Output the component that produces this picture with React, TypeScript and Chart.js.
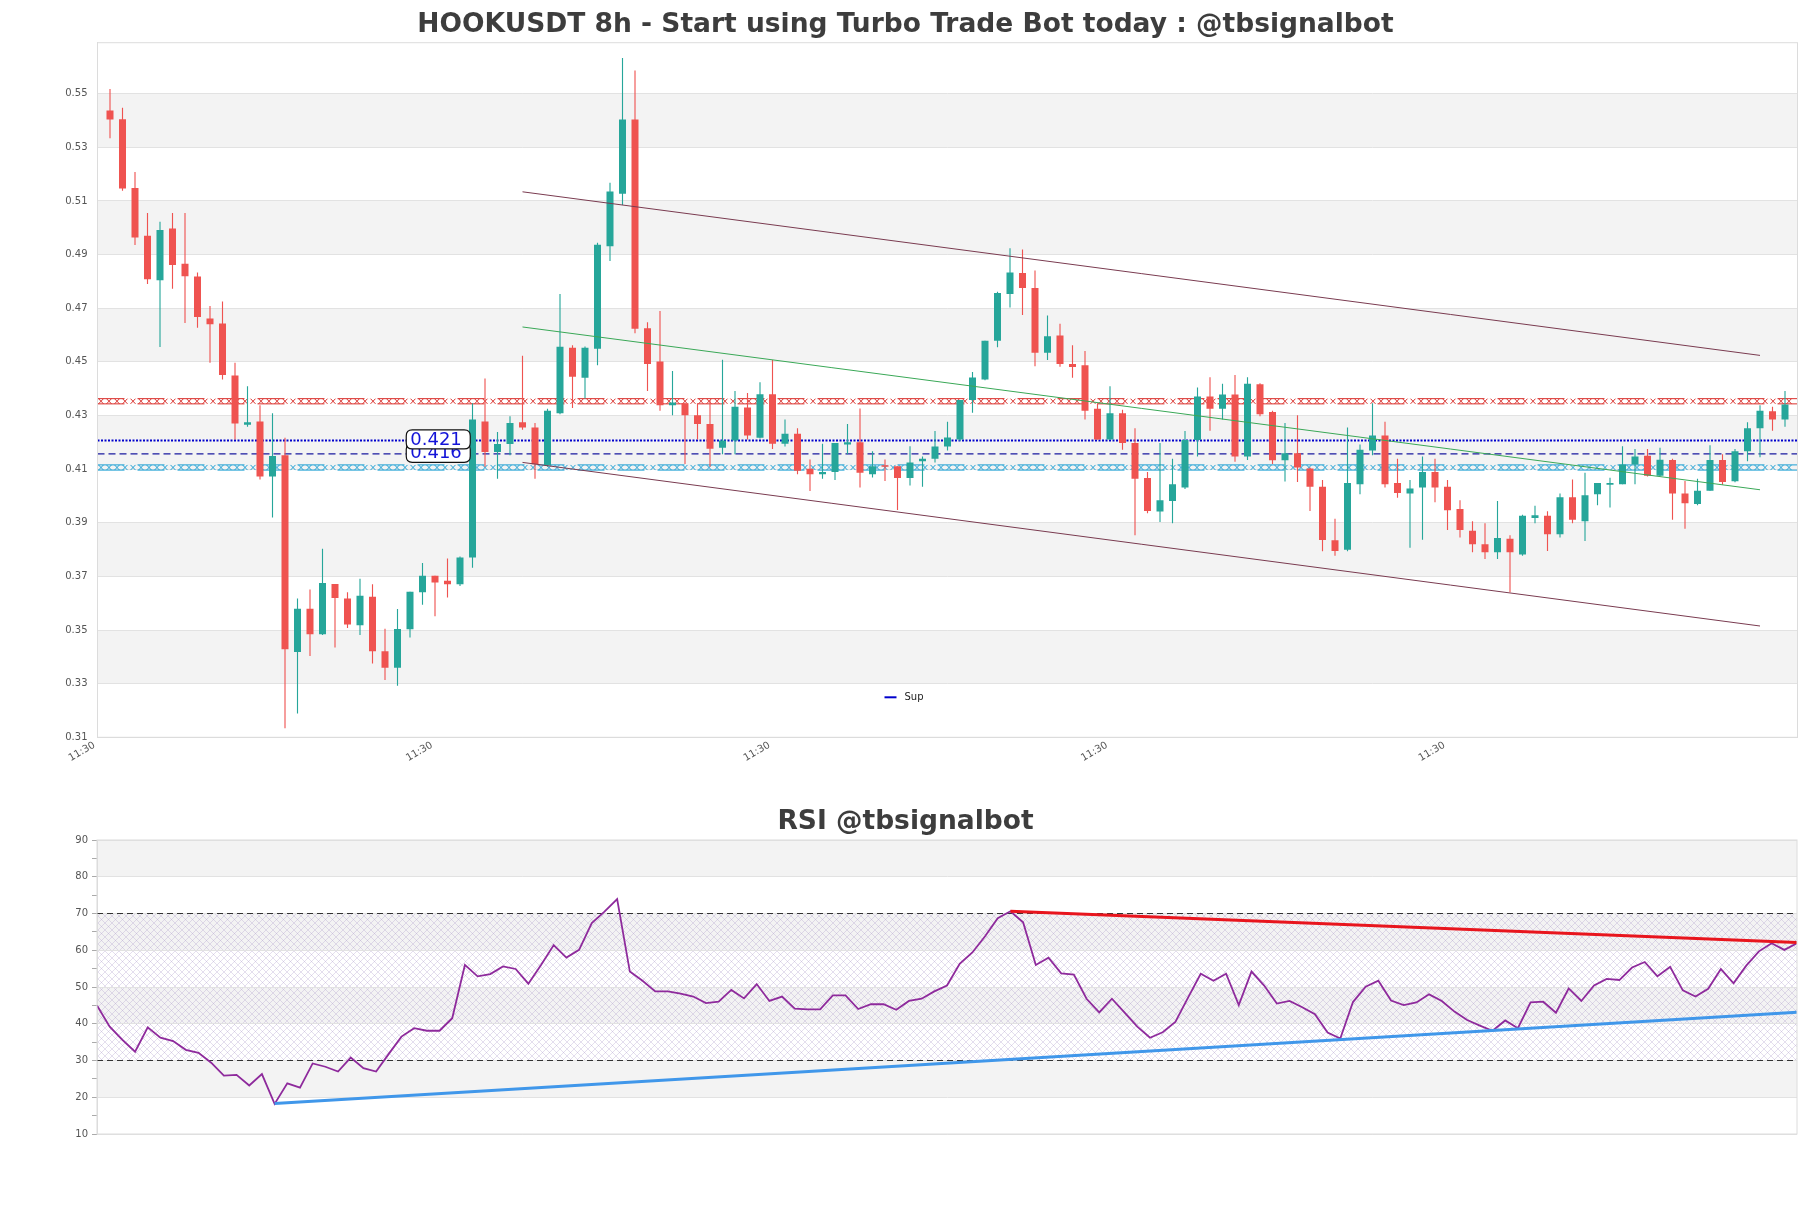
import React, { useEffect, useRef } from 'react';
import { Chart, registerables } from 'chart.js';

Chart.register(...registerables);
Chart.defaults.font.family = "'DejaVu Sans', 'Noto Sans', sans-serif";

// ---------- DATA ----------
const OPEN = [
  0.5437, 0.5405, 0.5148, 0.4970, 0.4804, 0.4997, 0.4866, 0.4818, 0.4662, 0.4643,
  0.4449, 0.4265, 0.4278, 0.4072, 0.4152, 0.3418, 0.3579, 0.3484, 0.3672, 0.3618,
  0.3518, 0.3624, 0.3421, 0.3359, 0.3503, 0.3641, 0.3702, 0.3684, 0.3671, 0.3770,
  0.4278, 0.4164, 0.4194, 0.4275, 0.4255, 0.4114, 0.4308, 0.4553, 0.4441, 0.4549,
  0.4931, 0.5127, 0.5404, 0.4625, 0.4501, 0.4338, 0.4346, 0.4301, 0.4268, 0.4180,
  0.4207, 0.4330, 0.4217, 0.4379, 0.4195, 0.4232, 0.4101, 0.4081, 0.4089, 0.4192,
  0.4200, 0.4081, 0.4114, 0.4111, 0.4067, 0.4129, 0.4139, 0.4184, 0.4210, 0.4358,
  0.4434, 0.4579, 0.4753, 0.4831, 0.4775, 0.4534, 0.4598, 0.4492, 0.4487, 0.4325,
  0.4210, 0.4308, 0.4197, 0.4067, 0.3942, 0.3981, 0.4031, 0.4209, 0.4371, 0.4325,
  0.4378, 0.4147, 0.4416, 0.4313, 0.4133, 0.4159, 0.4102, 0.4034, 0.3835, 0.3799,
  0.4044, 0.4169, 0.4225, 0.4048, 0.4009, 0.4031, 0.4089, 0.4034, 0.3951, 0.3870,
  0.3820, 0.3790, 0.3840, 0.3782, 0.3918, 0.3926, 0.3857, 0.3995, 0.3906, 0.4006,
  0.4042, 0.4044, 0.4117, 0.4150, 0.4075, 0.4134, 0.4009, 0.3970, 0.4019, 0.4134,
  0.4055, 0.4167, 0.4252, 0.4316, 0.4285,
];
const HIGH = [
  0.5517, 0.5447, 0.5208, 0.5055, 0.5022, 0.5055, 0.5055, 0.4833, 0.4708, 0.4725,
  0.4497, 0.4409, 0.4338, 0.4308, 0.4217, 0.3618, 0.3651, 0.3803, 0.3672, 0.3641,
  0.3691, 0.3671, 0.3505, 0.3578, 0.3643, 0.3750, 0.3702, 0.3767, 0.3774, 0.4346,
  0.4438, 0.4238, 0.4297, 0.4523, 0.4272, 0.4325, 0.4753, 0.4562, 0.4557, 0.4944,
  0.5168, 0.5633, 0.5586, 0.4648, 0.4690, 0.4466, 0.4346, 0.4346, 0.4358, 0.4508,
  0.4391, 0.4384, 0.4424, 0.4507, 0.4285, 0.4252, 0.4136, 0.4195, 0.4197, 0.4268,
  0.4326, 0.4167, 0.4136, 0.4111, 0.4185, 0.4147, 0.4242, 0.4277, 0.4358, 0.4462,
  0.4579, 0.4761, 0.4924, 0.4919, 0.4841, 0.4673, 0.4642, 0.4562, 0.4540, 0.4346,
  0.4409, 0.4321, 0.4252, 0.4089, 0.4197, 0.4139, 0.4242, 0.4404, 0.4443, 0.4418,
  0.4451, 0.4443, 0.4420, 0.4318, 0.4272, 0.4301, 0.4106, 0.4059, 0.3915, 0.4255,
  0.4192, 0.4346, 0.4277, 0.4139, 0.4059, 0.4147, 0.4139, 0.4059, 0.3984, 0.3906,
  0.3898, 0.3981, 0.3853, 0.3930, 0.3963, 0.3943, 0.4009, 0.4061, 0.4086, 0.4048,
  0.4068, 0.4185, 0.4175, 0.4175, 0.4180, 0.4139, 0.4056, 0.4064, 0.4189, 0.4155,
  0.4175, 0.4275, 0.4338, 0.4333, 0.4391,
];
const LOW = [
  0.5334, 0.5138, 0.4936, 0.4790, 0.4555, 0.4773, 0.4645, 0.4627, 0.4497, 0.4434,
  0.4210, 0.4258, 0.4061, 0.3920, 0.3134, 0.3189, 0.3403, 0.3481, 0.3435, 0.3508,
  0.3481, 0.3375, 0.3314, 0.3292, 0.3472, 0.3594, 0.3551, 0.3621, 0.3664, 0.3732,
  0.4109, 0.4064, 0.4152, 0.4247, 0.4064, 0.4109, 0.4305, 0.4328, 0.4363, 0.4487,
  0.4876, 0.5085, 0.4607, 0.4391, 0.4318, 0.4301, 0.4119, 0.4210, 0.4109, 0.4155,
  0.4155, 0.4210, 0.4214, 0.4175, 0.4184, 0.4081, 0.4018, 0.4064, 0.4059, 0.4155,
  0.4031, 0.4069, 0.4056, 0.3948, 0.4039, 0.4034, 0.4125, 0.4169, 0.4205, 0.4310,
  0.4431, 0.4554, 0.4703, 0.4675, 0.4484, 0.4507, 0.4482, 0.4441, 0.4285, 0.4210,
  0.4210, 0.4172, 0.3853, 0.3935, 0.3903, 0.3898, 0.4026, 0.4147, 0.4243, 0.4285,
  0.4127, 0.4134, 0.4297, 0.4119, 0.4054, 0.4052, 0.3944, 0.3794, 0.3777, 0.3794,
  0.4006, 0.4152, 0.4031, 0.3993, 0.3807, 0.3837, 0.3976, 0.3873, 0.3845, 0.3790,
  0.3765, 0.3765, 0.3641, 0.3777, 0.3898, 0.3795, 0.3845, 0.3898, 0.3832, 0.3965,
  0.3957, 0.4044, 0.4044, 0.4072, 0.4072, 0.3911, 0.3878, 0.3965, 0.4019, 0.4042,
  0.4051, 0.4129, 0.4144, 0.4243, 0.4258,
];
const CLOSE = [
  0.5404, 0.5146, 0.4964, 0.4808, 0.4992, 0.4861, 0.4819, 0.4667, 0.4640, 0.4451,
  0.4270, 0.4275, 0.4072, 0.4149, 0.3428, 0.3579, 0.3484, 0.3675, 0.3619, 0.3521,
  0.3628, 0.3421, 0.3359, 0.3504, 0.3643, 0.3702, 0.3677, 0.3671, 0.3770, 0.4285,
  0.4164, 0.4194, 0.4272, 0.4255, 0.4118, 0.4318, 0.4556, 0.4444, 0.4553, 0.4937,
  0.5135, 0.5404, 0.4623, 0.4492, 0.4338, 0.4348, 0.4301, 0.4268, 0.4176, 0.4207,
  0.4333, 0.4225, 0.4379, 0.4195, 0.4232, 0.4094, 0.4081, 0.4089, 0.4197, 0.4200,
  0.4086, 0.4111, 0.4109, 0.4067, 0.4125, 0.4139, 0.4184, 0.4218, 0.4358, 0.4442,
  0.4579, 0.4757, 0.4833, 0.4775, 0.4534, 0.4595, 0.4492, 0.4481, 0.4318, 0.4210,
  0.4308, 0.4197, 0.4064, 0.3944, 0.3984, 0.4044, 0.4209, 0.4371, 0.4325, 0.4378,
  0.4147, 0.4418, 0.4305, 0.4133, 0.4159, 0.4106, 0.4034, 0.3836, 0.3795, 0.4048,
  0.4172, 0.4225, 0.4044, 0.4011, 0.4028, 0.4089, 0.4031, 0.3947, 0.3873, 0.3820,
  0.3790, 0.3843, 0.3790, 0.3926, 0.3928, 0.3857, 0.3995, 0.3911, 0.4003, 0.4048,
  0.4048, 0.4117, 0.4147, 0.4075, 0.4135, 0.4009, 0.3973, 0.4019, 0.4134, 0.4052,
  0.4167, 0.4252, 0.4318, 0.4285, 0.4341,
];

const RSI = [
  45.0, 39.2, 35.6, 32.4, 39.0, 36.2, 35.3, 32.9, 32.1, 29.4,
  25.9, 26.1, 23.2, 26.3, 18.2, 23.8, 22.6, 29.2, 28.3, 27.0,
  30.8, 27.9, 27.0, 31.8, 36.5, 38.8, 38.1, 38.1, 41.5, 56.0,
  52.9, 53.5, 55.6, 54.9, 50.9, 56.0, 61.4, 58.0, 60.1, 67.4,
  70.5, 73.9, 54.2, 51.7, 48.8, 48.8, 48.2, 47.4, 45.6, 46.0,
  49.2, 46.9, 50.8, 46.2, 47.4, 44.1, 43.9, 43.9, 47.7, 47.7,
  44.0, 45.3, 45.3, 43.8, 46.2, 46.8, 48.8, 50.4, 56.3, 59.4,
  63.8, 68.7, 70.6, 67.6, 56.0, 58.0, 53.7, 53.4, 46.8, 43.1,
  46.8, 43.0, 39.2, 36.2, 37.7, 40.5, 47.1, 53.6, 51.7, 53.6,
  45.1, 54.2, 50.4, 45.5, 46.2, 44.5, 42.6, 37.6, 36.0, 45.9,
  50.1, 51.7, 46.3, 45.1, 45.8, 48.0, 46.2, 43.3, 41.0, 39.5,
  38.1, 40.9, 38.8, 45.8, 46.0, 43.0, 49.6, 46.2, 50.4, 52.2,
  51.9, 55.3, 56.8, 52.9, 55.5, 49.1, 47.4, 49.5, 54.9, 51.0,
  55.8, 59.7, 61.9, 60.1, 61.9,
];

const Y_TICKS = [0.31, 0.33, 0.35, 0.37, 0.39, 0.41, 0.43, 0.45, 0.47, 0.49, 0.51, 0.53, 0.55];
const X_TICKS = [-1, 26, 53, 80, 107];
const X_TICK_LABELS = ['11:30', '11:30', '11:30', '11:30', '11:30'];
const RSI_TICKS = [10, 20, 30, 40, 50, 60, 70, 80, 90];

// trend lines [x0, y0, x1, y1]
const CHANNEL_UPPER = [33, 0.5134, 132, 0.4524];
const CHANNEL_LOWER = [33, 0.4125, 132, 0.3515];
const CHANNEL_MID = [33, 0.4630, 132, 0.4023];

// horizontal levels
const RES_LEVEL = 0.4353;
const SUP_LEVEL = 0.4106;
const DOTTED_LEVEL = 0.4207;
const DASHED_LEVEL = 0.4157;
const LABEL_LEVELS = [0.4157, 0.4207];
const LABEL_TEXTS = ['0.416', '0.421'];

// RSI lines [x0, y0, x1, y1]
const RSI_SUPPORT = [14, 18.3, 134, 43.1];
const RSI_RESIST = [72, 70.6, 134, 62.1];
const RSI_LEVELS = [70, 30];

const TITLE = 'HOOKUSDT 8h - Start using Turbo Trade Bot today : @tbsignalbot';
const RSI_TITLE = 'RSI @tbsignalbot';
const LEGEND_LABEL = 'Sup';

// ---------- STYLE ----------
const UP = '#26a69a';
const DOWN = '#ef5350';
const BAND = '#f3f3f3';
const GRID = '#e2e2e2';
const BORDER = '#dcdcdc';
const FONT = "'DejaVu Sans', 'Noto Sans', sans-serif";

const W = 1811;
const H1 = 790;
const H2 = 418;

function seg(a: number[]) {
  return [{ x: a[0], y: a[1] }, { x: a[2], y: a[3] }];
}

function drawXBand(ctx: CanvasRenderingContext2D, left: number, right: number, y: number, color: string) {
  ctx.save();
  ctx.strokeStyle = color;
  ctx.lineWidth = 1;
  const h = 2.6;
  const w = 5;
  const step = 8;
  ctx.beginPath();
  for (let x = left + 1; x + w <= right; x += step) {
    ctx.moveTo(x, y - h);
    ctx.lineTo(x + w, y + h);
    ctx.moveTo(x + w, y - h);
    ctx.lineTo(x, y + h);
  }
  ctx.stroke();
  ctx.setLineDash([27, 13]);
  ctx.beginPath();
  ctx.moveTo(left, y - h);
  ctx.lineTo(right, y - h);
  ctx.moveTo(left, y + h);
  ctx.lineTo(right, y + h);
  ctx.stroke();
  ctx.restore();
}

function roundRectPath(ctx: CanvasRenderingContext2D, x: number, y: number, w: number, h: number, r: number) {
  ctx.beginPath();
  ctx.moveTo(x + r, y);
  ctx.lineTo(x + w - r, y);
  ctx.quadraticCurveTo(x + w, y, x + w, y + r);
  ctx.lineTo(x + w, y + h - r);
  ctx.quadraticCurveTo(x + w, y + h, x + w - r, y + h);
  ctx.lineTo(x + r, y + h);
  ctx.quadraticCurveTo(x, y + h, x, y + h - r);
  ctx.lineTo(x, y + r);
  ctx.quadraticCurveTo(x, y, x + r, y);
  ctx.closePath();
}

const LABEL_X = 23.7;

export default function App() {
  const ref1 = useRef<HTMLCanvasElement | null>(null);
  const ref2 = useRef<HTMLCanvasElement | null>(null);

  useEffect(() => {
    const colors = CLOSE.map((c, i) => (c >= OPEN[i] ? UP : DOWN));
    const idx = CLOSE.map((_, i) => i);

    const mainPlugin = {
      id: 'mainDecor',
      beforeDraw(chart: any) {
        const { ctx, chartArea: a, scales } = chart;
        const y = scales.y;
        ctx.save();
        ctx.fillStyle = BAND;
        for (let i = 1; i < Y_TICKS.length - 1; i += 2) {
          const t = y.getPixelForValue(Y_TICKS[i + 1]);
          const b = y.getPixelForValue(Y_TICKS[i]);
          ctx.fillRect(a.left, t, a.right - a.left, b - t);
        }
        ctx.restore();
      },
      beforeDatasetsDraw(chart: any) {
        const { ctx, chartArea: a, scales } = chart;
        drawXBand(ctx, a.left, a.right, scales.y.getPixelForValue(RES_LEVEL), '#d9302c');
        drawXBand(ctx, a.left, a.right, scales.y.getPixelForValue(SUP_LEVEL), '#1ea0d4');
      },
      afterDatasetsDraw(chart: any) {
        const { ctx, scales } = chart;
        ctx.save();
        LABEL_LEVELS.forEach((lv, k) => {
          const cy = scales.y.getPixelForValue(lv) - 1;
          const left = scales.x.getPixelForValue(LABEL_X);
          const bw = 64;
          const bh = 19;
          roundRectPath(ctx, left, cy - bh / 2, bw, bh, 6);
          ctx.fillStyle = '#ffffff';
          ctx.fill();
          ctx.lineWidth = 1.2;
          ctx.strokeStyle = '#111';
          ctx.stroke();
          ctx.fillStyle = '#1414d8';
          ctx.font = `18px ${FONT}`;
          ctx.textAlign = 'left';
          ctx.textBaseline = 'middle';
          ctx.fillText(LABEL_TEXTS[k], left + 4, cy + 1);
        });
        ctx.restore();
      },
      afterDraw(chart: any) {
        const { ctx, chartArea: a } = chart;
        ctx.save();
        ctx.strokeStyle = BORDER;
        ctx.lineWidth = 1;
        ctx.strokeRect(a.left, a.top, a.right - a.left, a.bottom - a.top);
        // title
        ctx.fillStyle = '#3d3d3d';
        ctx.font = `bold 26.5px ${FONT}`;
        ctx.textAlign = 'center';
        ctx.textBaseline = 'alphabetic';
        ctx.fillText(TITLE, W / 2, 32);
        // legend
        const lx = a.left + 787;
        const ly = a.bottom - 40;
        ctx.strokeStyle = '#0000cc';
        ctx.lineWidth = 2;
        ctx.beginPath();
        ctx.moveTo(lx, ly);
        ctx.lineTo(lx + 12, ly);
        ctx.stroke();
        ctx.fillStyle = '#222';
        ctx.font = `10px ${FONT}`;
        ctx.textAlign = 'left';
        ctx.textBaseline = 'middle';
        ctx.fillText(LEGEND_LABEL, lx + 20, ly);
        ctx.restore();
      },
    };

    const lineDs = (data: any[], color: string, width: number, order: number, dash: number[] = []) => ({
      type: 'line',
      data,
      borderColor: color,
      borderWidth: width,
      borderDash: dash,
      pointRadius: 0,
      fill: false,
      tension: 0,
      order,
    });

    const chart1 = new Chart(ref1.current as HTMLCanvasElement, {
      type: 'bar',
      data: {
        datasets: [
          {
            type: 'bar',
            data: idx.map((i) => ({ x: i, y: [OPEN[i], CLOSE[i]] })),
            backgroundColor: colors,
            grouped: false,
            barPercentage: 0.56,
            categoryPercentage: 1,
            minBarLength: 1.5,
            order: 1,
          },
          {
            type: 'bar',
            data: idx.map((i) => ({ x: i, y: [LOW[i], HIGH[i]] })),
            backgroundColor: colors,
            grouped: false,
            barPercentage: 0.09,
            categoryPercentage: 1,
            order: 2,
          },
          lineDs([{ x: -1, y: DOTTED_LEVEL }, { x: 135, y: DOTTED_LEVEL }], '#0000cc', 2, 3, [2, 1.5]),
          lineDs([{ x: -1, y: DASHED_LEVEL }, { x: 135, y: DASHED_LEVEL }], '#1a1aa0', 1.3, 3, [7, 4]),
          lineDs(seg(CHANNEL_UPPER), '#7a3b50', 1, 0),
          lineDs(seg(CHANNEL_LOWER), '#7a3b50', 1, 0),
          lineDs(seg(CHANNEL_MID), '#3aa857', 1, 0),
        ] as any,
      },
      options: {
        responsive: false,
        animation: false,
        events: [],
        layout: { padding: { left: 0, right: 13.5, top: 42.7, bottom: 0 } },
        plugins: { legend: { display: false }, tooltip: { enabled: false }, title: { display: false } },
        scales: {
          x: {
            type: 'linear',
            min: -1,
            max: 135,
            offset: false,
            afterBuildTicks: (s: any) => {
              s.ticks = X_TICKS.map((v) => ({ value: v }));
            },
            afterFit: (s: any) => {
              s.height = 52.7;
            },
            grid: { display: false, drawTicks: false },
            border: { display: true, color: BORDER },
            ticks: {
              autoSkip: false,
              maxRotation: 30,
              minRotation: 30,
              padding: 2,
              labelOffset: -3,
              color: '#555',
              font: { size: 10, family: FONT },
              callback: (_v: any, i: number) => X_TICK_LABELS[i],
            },
          },
          y: {
            type: 'linear',
            min: 0.31,
            max: 0.569,
            afterBuildTicks: (s: any) => {
              s.ticks = Y_TICKS.map((v) => ({ value: v }));
            },
            afterFit: (s: any) => {
              s.width = 97.5;
            },
            grid: { color: GRID, drawTicks: false },
            border: { display: true, color: BORDER },
            ticks: {
              padding: 10,
              color: '#555',
              font: { size: 10, family: FONT },
              callback: (v: any) => Number(v).toFixed(2),
            },
          },
        },
      } as any,
      plugins: [mainPlugin],
    });

    // RSI chart
    const pc = document.createElement('canvas');
    pc.width = 7;
    pc.height = 7;
    const pctx = pc.getContext('2d') as CanvasRenderingContext2D;
    pctx.strokeStyle = 'rgba(170,150,200,0.45)';
    pctx.lineWidth = 0.7;
    pctx.beginPath();
    pctx.moveTo(0, 0);
    pctx.lineTo(7, 7);
    pctx.moveTo(7, 0);
    pctx.lineTo(0, 7);
    pctx.stroke();

    const rsiPlugin = {
      id: 'rsiDecor',
      beforeDraw(chart: any) {
        const { ctx, chartArea: a, scales } = chart;
        const y = scales.y;
        ctx.save();
        ctx.fillStyle = BAND;
        for (let i = 1; i < RSI_TICKS.length - 1; i += 2) {
          const t = y.getPixelForValue(RSI_TICKS[i + 1]);
          const b = y.getPixelForValue(RSI_TICKS[i]);
          ctx.fillRect(a.left, t, a.right - a.left, b - t);
        }
        const pat = ctx.createPattern(pc, 'repeat');
        if (pat) {
          ctx.fillStyle = pat;
          const t = y.getPixelForValue(RSI_LEVELS[0]);
          const b = y.getPixelForValue(RSI_LEVELS[1]);
          ctx.fillRect(a.left, t, a.right - a.left, b - t);
        }
        ctx.restore();
      },
      afterDraw(chart: any) {
        const { ctx, chartArea: a } = chart;
        ctx.save();
        ctx.strokeStyle = BORDER;
        ctx.lineWidth = 1;
        ctx.strokeRect(a.left, a.top, a.right - a.left, a.bottom - a.top);
        ctx.fillStyle = '#3d3d3d';
        ctx.font = `bold 26.5px ${FONT}`;
        ctx.textAlign = 'center';
        ctx.textBaseline = 'alphabetic';
        ctx.fillText(RSI_TITLE, W / 2, 39);
        ctx.restore();
      },
    };

    const chart2 = new Chart(ref2.current as HTMLCanvasElement, {
      type: 'line',
      data: {
        datasets: [
          lineDs(RSI.map((v, i) => ({ x: i, y: v })), '#8e2a9c', 1.8, 1),
          lineDs(seg(RSI_SUPPORT), '#4097ea', 3, 0),
          lineDs(seg(RSI_RESIST), '#e8151d', 3, 0),
          lineDs([{ x: 0, y: RSI_LEVELS[0] }, { x: RSI.length - 1, y: RSI_LEVELS[0] }], '#333', 1.2, 2, [6, 4]),
          lineDs([{ x: 0, y: RSI_LEVELS[1] }, { x: RSI.length - 1, y: RSI_LEVELS[1] }], '#333', 1.2, 2, [6, 4]),
        ] as any,
      },
      options: {
        responsive: false,
        animation: false,
        events: [],
        layout: { padding: { left: 0, right: 14, top: 50, bottom: 74 } },
        plugins: { legend: { display: false }, tooltip: { enabled: false }, title: { display: false } },
        scales: {
          x: {
            type: 'linear',
            min: 0,
            max: RSI.length - 1,
            display: false,
          },
          y: {
            type: 'linear',
            min: 10,
            max: 90,
            afterFit: (s: any) => {
              s.width = 97;
            },
            grid: {
              color: (c: any) => (c.tick && c.tick.value % 10 === 0 ? GRID : 'rgba(0,0,0,0)'),
              tickColor: '#aaa',
              tickLength: 5,
            },
            border: { display: true, color: BORDER },
            ticks: {
              stepSize: 5,
              padding: 4,
              color: '#555',
              font: { size: 10, family: FONT },
              callback: (v: any) => (Number(v) % 10 === 0 ? String(v) : ''),
            },
          },
        },
      } as any,
      plugins: [rsiPlugin],
    });

    return () => {
      chart1.destroy();
      chart2.destroy();
    };
  }, []);

  return (
    <div style={{ position: 'absolute', left: 0, top: 0, width: W, height: H1 + H2, background: '#fff' }}>
      <canvas ref={ref1} width={W} height={H1} style={{ position: 'absolute', left: 0, top: 0, width: W, height: H1 }} />
      <canvas ref={ref2} width={W} height={H2} style={{ position: 'absolute', left: 0, top: H1, width: W, height: H2 }} />
    </div>
  );
}
